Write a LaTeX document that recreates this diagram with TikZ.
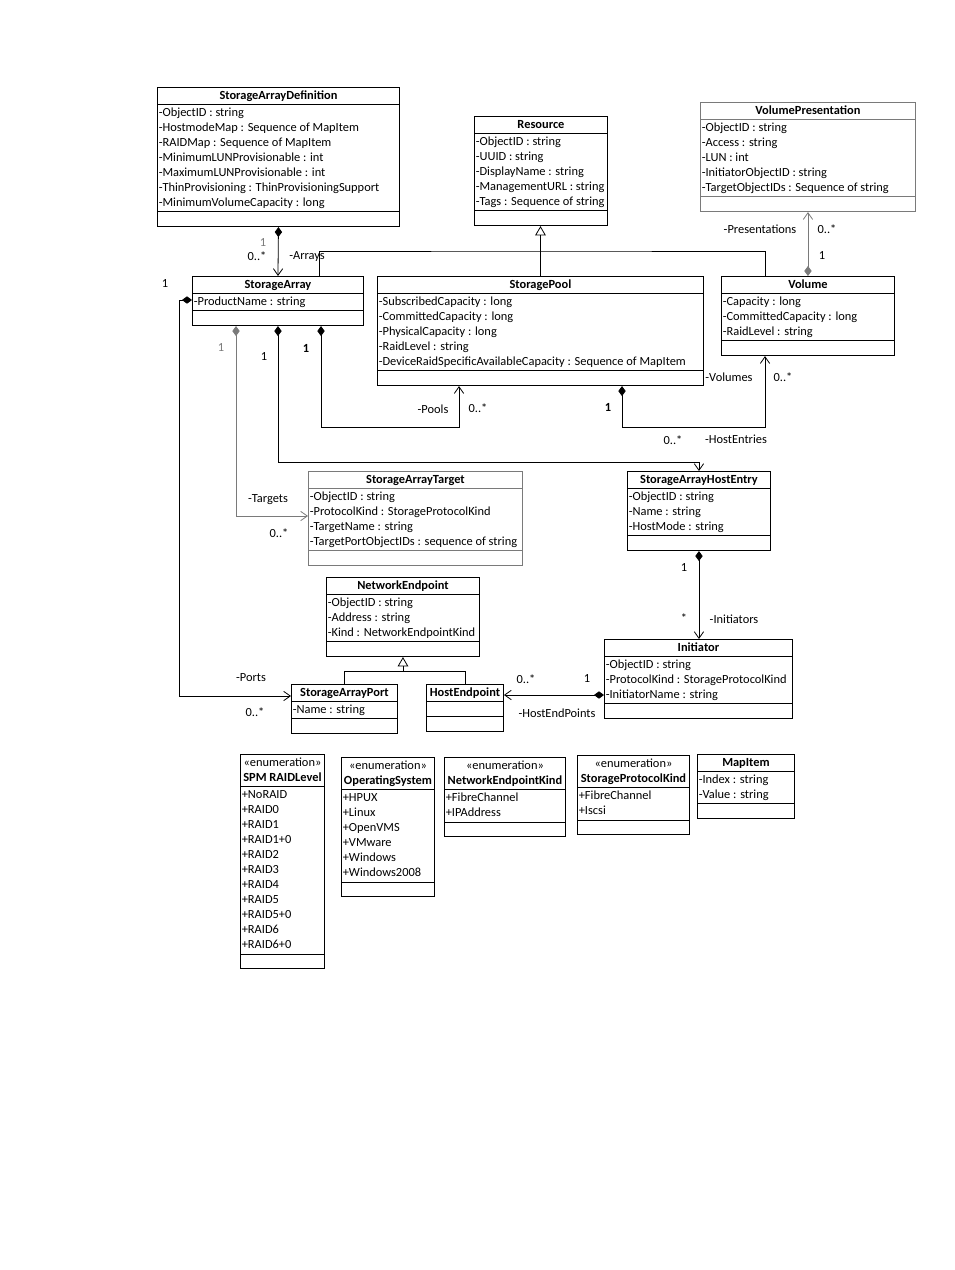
\documentclass[tikz,border=0pt]{standalone}
\usepackage{fontspec}
\setmainfont{Carlito}
\usetikzlibrary{arrows.meta,positioning,shapes.multipart,calc}
\definecolor{ugray}{HTML}{7A7A7A}
\newcommand{\clsname}[1]{\rule[-3.4pt]{0pt}{11.2pt}\textbf{#1}}
\newcommand{\enumname}[1]{\begin{tabular}{@{}c@{}}«enumeration»\\\textbf{#1}\end{tabular}}

\begin{document}
\begin{tikzpicture}[x=0.75pt,y=-0.75pt,
  font=\fontsize{9.3}{11.25}\selectfont,
  cls/.style={rectangle split,rectangle split parts=3,draw,anchor=north west,
              inner xsep=1pt,inner ysep=0.5pt,align=left,line width=0.7pt,
              rectangle split part align={center,left,left},
              rectangle split empty part height=9.3pt,minimum width=#1*0.75pt},
  comp/.style={{Diamond[length=7.5pt,width=5.5pt]}-{Straight Barb[length=5pt,width=7pt]},line width=0.6pt},
  inh/.style={-{Triangle[open,length=7pt,width=8pt]},line width=0.6pt},
  mult/.style={inner sep=0pt},
  role/.style={inner sep=0pt}]
\useasboundingbox (0,0) rectangle (954,1270);

\node[cls=242] (sad) at (157,87) {\clsname{StorageArrayDefinition}
  \nodepart{second}\strut-ObjectID : string\\-HostmodeMap : Sequence of MapItem\\-RAIDMap : Sequence of MapItem\\
  -MinimumLUNProvisionable : int\\-MaximumLUNProvisionable : int\\-ThinProvisioning : ThinProvisioningSupport\\
  -MinimumVolumeCapacity : long\strut
  \nodepart{third}};
\node[cls=133] (res) at (474,116) {\clsname{Resource}
  \nodepart{second}\strut-ObjectID : string\\-UUID : string\\-DisplayName : string\\-ManagementURL : string\\
  -Tags : Sequence of string\strut
  \nodepart{third}};
\node[cls=215,draw=ugray] (vp) at (700,102) {\clsname{VolumePresentation}
  \nodepart{second}\strut-ObjectID : string\\-Access : string\\-LUN : int\\-InitiatorObjectID : string\\
  -TargetObjectIDs : Sequence of string\strut
  \nodepart{third}};
\node[cls=171] (sa) at (192,276) {\clsname{StorageArray}
  \nodepart{second}\strut-ProductName : string
  \nodepart{third}};
\node[cls=326] (sp) at (377,276) {\clsname{StoragePool}
  \nodepart{second}\strut-SubscribedCapacity : long\\-CommittedCapacity : long\\-PhysicalCapacity : long\\
  -RaidLevel : string\\-DeviceRaidSpecificAvailableCapacity : Sequence of MapItem\strut
  \nodepart{third}};
\node[cls=173] (vol) at (721,276) {\clsname{Volume}
  \nodepart{second}\strut-Capacity : long\\-CommittedCapacity : long\\-RaidLevel : string\strut
  \nodepart{third}};
\node[cls=214,draw=ugray] (sat) at (308,471) {\clsname{StorageArrayTarget}
  \nodepart{second}\strut-ObjectID : string\\-ProtocolKind : StorageProtocolKind\\-TargetName : string\\
  -TargetPortObjectIDs : sequence of string\strut
  \nodepart{third}};
\node[cls=143] (sahe) at (627,471) {\clsname{StorageArrayHostEntry}
  \nodepart{second}\strut-ObjectID : string\\-Name : string\\-HostMode : string\strut
  \nodepart{third}};
\node[cls=153] (ne) at (326,577) {\clsname{NetworkEndpoint}
  \nodepart{second}\strut-ObjectID : string\\-Address : string\\-Kind : NetworkEndpointKind\strut
  \nodepart{third}};
\node[cls=106] (port) at (291,684) {\clsname{StorageArrayPort}
  \nodepart{second}\strut-Name : string
  \nodepart{third}};
\node[cls=77] (hostep) at (426,684) {\clsname{HostEndpoint}
  \nodepart{second}
  \nodepart{third}};
\node[cls=188] (init) at (604,639) {\clsname{Initiator}
  \nodepart{second}\strut-ObjectID : string\\-ProtocolKind : StorageProtocolKind\\-InitiatorName : string\strut
  \nodepart{third}};

\node[cls=84] (raid) at (240,754) {\enumname{SPM RAIDLevel}
  \nodepart{second}\strut+NoRAID\\+RAID0\\+RAID1\\+RAID1+0\\+RAID2\\+RAID3\\+RAID4\\+RAID5\\+RAID5+0\\+RAID6\\+RAID6+0\strut
  \nodepart{third}};
\node[cls=93] (os) at (341,757) {\enumname{OperatingSystem}
  \nodepart{second}\strut+HPUX\\+Linux\\+OpenVMS\\+VMware\\+Windows\\+Windows2008\strut
  \nodepart{third}};
\node[cls=121] (nek) at (444,757) {\enumname{NetworkEndpointKind}
  \nodepart{second}\strut+FibreChannel\\+IPAddress\strut
  \nodepart{third}};
\node[cls=112] (spk) at (577,755) {\enumname{StorageProtocolKind}
  \nodepart{second}\strut+FibreChannel\\+Iscsi\strut
  \nodepart{third}};
\node[cls=97] (mapitem) at (697,754) {\clsname{MapItem}
  \nodepart{second}\strut-Index : string\\-Value : string\strut
  \nodepart{third}};

\draw[comp] (sad.south) -- (sa.north);
\draw[line width=0.6pt] ($(sa.north)+(41.5,0)$) |- ($(sp.north)+(0,-25)$) -| ($(vol.north)+(-42.5,0)$);
\draw[inh] (sp.north) -- (sp.north |- res.south);
\draw[comp,draw=ugray] (vol.north) -- (vp.south);
\draw[comp] ($(sa.north west)+(0,24)$) -- ++(-13,0) |- ($(port.north west)+(0,12)$);
\draw[comp,draw=ugray] ($(sa.south west)+(44,0)$) |- ($(sat.north west)+(0,45)$);
\draw[comp] (sa.south) |- ($(sahe.north)+(0,-9)$) -- (sahe.north);
\draw[comp] ($(sa.south west)+(129,0)$) |- ($(sp.south west)+(82,41)$) -- ($(sp.south west)+(82,0)$);
\draw[comp] ($(sp.south west)+(245,0)$) |- ($(vol.south west)+(44,71)$) -- ($(vol.south west)+(44,0)$);
\draw[comp] (sahe.south) -- (sahe.south |- init.north);
\draw[comp] ($(init.north west)+(0,56)$) -- ($(hostep.north east)+(0,11)$);
\coordinate (nej) at ($(ne.south)+(0,14)$);
\draw[line width=0.6pt] (port.north) |- (nej) -| (hostep.north);
\draw[inh] (nej) -- (ne.south);

\node[mult,text=ugray] (m1) at (263,243) {1};
\node[mult] (m2) at (257,256) {0..*};
\node[role] (r1) at (307,257) {-Arrays};
\node[mult] (m3) at (165,284) {1};
\node[mult,text=ugray] (m4) at (221,348) {1};
\node[mult] (m5) at (264,357) {1};
\node[mult] (m6) at (306,348) {\textbf{1}};
\node[role] (r2) at (433,409) {-Pools};
\node[mult] (m7) at (478,408) {0..*};
\node[mult] (m8) at (608,407) {\textbf{1}};
\node[role] (r3) at (729,377) {-Volumes};
\node[mult] (m9) at (783,377) {0..*};
\node[mult] (m10) at (673,440) {0..*};
\node[role] (r4) at (736,439) {-HostEntries};
\node[role] (r5) at (268,500) {-Targets};
\node[mult] (m11) at (279,533) {0..*};
\node[role] (r6) at (760,229) {-Presentations};
\node[mult] (m12) at (827,229) {0..*};
\node[mult] (m13) at (822,256) {1};
\node[mult] (m14) at (684,568) {1};
\node[mult] (m15) at (684,618) {*};
\node[role] (r7) at (734,619) {-Initiators};
\node[role] (r8) at (251,678) {-Ports};
\node[mult] (m16) at (255,712) {0..*};
\node[mult] (m17) at (526,679) {0..*};
\node[mult] (m18) at (587,679) {1};
\node[role] (r9) at (557,713) {-HostEndPoints};
\end{tikzpicture}
\end{document}
